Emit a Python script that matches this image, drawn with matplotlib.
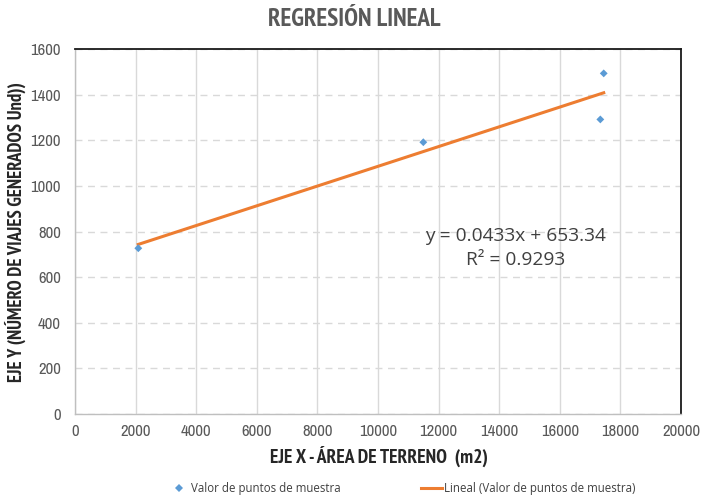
import matplotlib
matplotlib.use("Agg")
import matplotlib.pyplot as plt
from matplotlib import font_manager
from matplotlib.font_manager import FontProperties
from matplotlib.lines import Line2D

# Sample points: land area (m2) vs generated trips
area_m2 = [2089, 11495, 17337, 17449]
trips = [727, 1192, 1292, 1494]

# Linear trend reported for the sample
slope = 0.0433
intercept = 653.34
r_squared = 0.9293

x_ticks = list(range(0, 20001, 2000))
y_ticks = list(range(0, 1601, 200))


def find_narrow(bold):
    """Pick a condensed/narrow face if one is installed."""
    best = None
    for f in font_manager.fontManager.ttflist:
        fn = f.fname.lower()
        is_narrow = ("narrow" in fn or "condensed" in fn or
                     f.stretch in ("condensed", "semi-condensed", 600, 500))
        if not is_narrow or "mono" in fn or "serif" in fn and "sans" not in fn:
            continue
        w = f.weight if isinstance(f.weight, int) else (700 if f.weight == "bold" else 400)
        if bold != (w >= 600):
            continue
        if "italic" in fn or "oblique" in fn or f.style != "normal":
            continue
        score = 0 if "narrow" in fn else 1
        if best is None or score < best[0]:
            best = (score, f.fname)
    return best[1] if best else None


nb = find_narrow(True)
nr = find_narrow(False)
bold_fp = FontProperties(fname=nb) if nb else FontProperties(family="Liberation Sans", weight="bold")
reg_fp = FontProperties(fname=nr) if nr else FontProperties(family="Liberation Sans")
body = "Open Sans"

fig = plt.figure(figsize=(7.01, 4.97), dpi=100)
ax = fig.add_axes([0.107, 0.167, 0.8645, 0.734])

ax.set_xlim(0, 20000)
ax.set_ylim(0, 1600)
ax.set_xticks(x_ticks)
ax.set_yticks(y_ticks)

ax.grid(axis="x", color="#d9d9d9", linewidth=1.0, linestyle="-")
ax.grid(axis="y", color="#d9d9d9", linewidth=1.0, linestyle=(0, (5, 4)))
ax.set_axisbelow(True)

for side in ("left", "bottom"):
    ax.spines[side].set_color("#bfbfbf")
    ax.spines[side].set_linewidth(1.0)
for side in ("top", "right"):
    ax.spines[side].set_color("#1a1a1a")
    ax.spines[side].set_linewidth(1.3)

ax.tick_params(axis="x", length=0, pad=7, labelcolor="#595959")
ax.tick_params(axis="y", length=0, pad=10, labelcolor="#595959")
tick_fp = reg_fp.copy()
tick_fp.set_size(12 if nr else 10)
for lab in ax.get_xticklabels() + ax.get_yticklabels():
    lab.set_fontproperties(tick_fp)

# Trend line over the sampled range
x0, x1 = min(area_m2), max(area_m2)
ax.plot([x0, x1], [slope * x0 + intercept, slope * x1 + intercept],
        color="#ed7d31", linewidth=2.2, zorder=2)

ax.scatter(area_m2, trips, marker="D", s=16, color="#5b9bd5",
           edgecolors="none", zorder=3)

ax.text(14540, 780, f"y = {slope}x + {intercept}", fontsize=13.8,
        family=body, color="#404040", ha="center", va="center")
ax.text(14540, 675, f"R² = {r_squared}", fontsize=13.8,
        family=body, color="#404040", ha="center", va="center")

title_fp = bold_fp.copy()
title_fp.set_size(18 if nb else 14)
xlab_fp = bold_fp.copy()
xlab_fp.set_size(14 if nb else 10)
ylab_fp = bold_fp.copy()
ylab_fp.set_size(13.5 if nb else 10)

fig.text(0.506, 0.961, "REGRESIÓN LINEAL", ha="center", va="center",
         fontproperties=title_fp, color="#595959")
fig.text(0.54, 0.081, "EJE X - ÁREA DE TERRENO  (m2)", ha="center",
         va="center", fontproperties=xlab_fp, color="#262626")
fig.text(0.022, 0.533, "EJE Y (NÚMERO DE VIAJES GENERADOS Und))",
         ha="center", va="center", rotation=90, fontproperties=ylab_fp,
         color="#262626")

handles = [
    Line2D([], [], marker="D", linestyle="none", markersize=4.5,
           color="#5b9bd5", markeredgewidth=0),
    Line2D([], [], color="#ed7d31", linewidth=2.2),
]
leg = fig.legend(handles,
                 ["Valor de puntos de muestra",
                  "Lineal (Valor de puntos de muestra)"],
                 loc="center", bbox_to_anchor=(0.573, 0.018), ncol=2,
                 frameon=False, columnspacing=6.9,
                 handlelength=1.9, handletextpad=0.15,
                 prop={"family": body, "size": 8.3})
for t in leg.get_texts():
    t.set_color("#404040")

fig.savefig("out.png", dpi=100, facecolor="white")
